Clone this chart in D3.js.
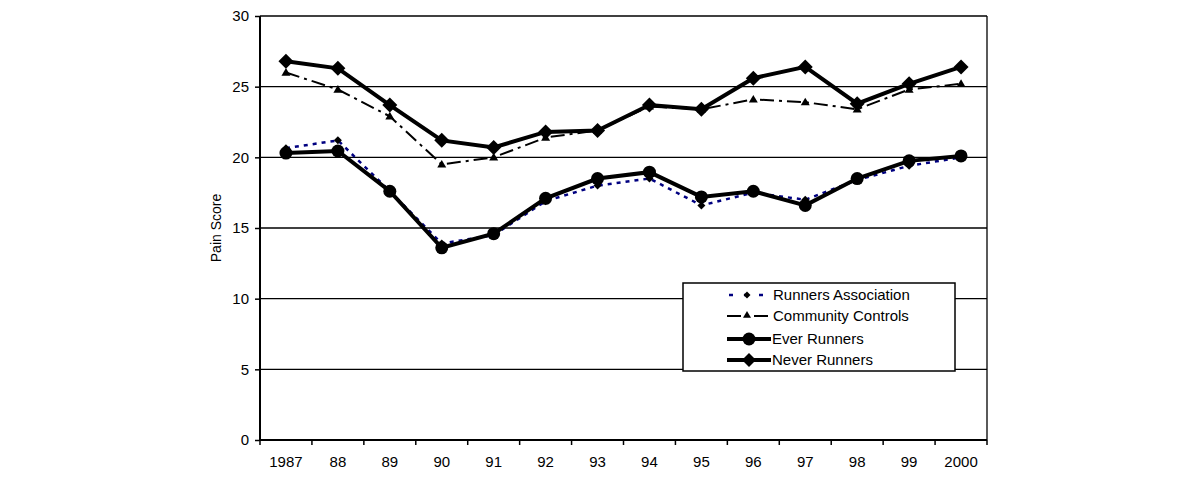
<!DOCTYPE html>
<html><head><meta charset="utf-8">
<script src="https://cdn.jsdelivr.net/npm/d3@7"></script>
<style>body{margin:0;background:#fff;font-family:"Liberation Sans",Arial,sans-serif;}</style>
</head><body><svg id="c" width="1200" height="478"></svg>
<script>
const years = ["1987","88","89","90","91","92","93","94","95","96","97","98","99","2000"];
const runnersAssociation = [20.65,21.2,17.6,13.9,14.5,16.9,18.0,18.5,16.6,17.5,17.0,18.4,19.4,20.0];
const communityControls = [26.0,24.8,22.9,19.5,20.0,21.4,21.9,23.6,23.4,24.1,23.9,23.4,24.8,25.2];
const everRunners = [20.3,20.45,17.6,13.6,14.6,17.1,18.5,18.95,17.2,17.6,16.6,18.5,19.75,20.1];
const neverRunners = [26.8,26.3,23.7,21.2,20.7,21.8,21.9,23.7,23.4,25.6,26.4,23.8,25.2,26.4];
const yTicks = [0,5,10,15,20,25,30];
const seriesNames = ["Runners Association","Community Controls","Ever Runners","Never Runners"];

const svg = d3.select("#c");
const L=260,R=987,T=16,B=440;
const x = d3.scaleBand().domain(years).range([L,R]);
const y = d3.scaleLinear().domain([0,30]).range([B,T]);
const font = '"Liberation Sans",Arial,sans-serif';

svg.append("g").selectAll("line").data(yTicks.filter(d=>d>0)).join("line")
  .attr("x1",L).attr("x2",R).attr("y1",d=>y(d)).attr("y2",d=>y(d))
  .attr("stroke","#000").attr("stroke-width",1.3);
svg.append("line").attr("x1",R).attr("x2",R).attr("y1",T).attr("y2",B).attr("stroke","#000").attr("stroke-width",1.3);

const ya = svg.append("g").attr("transform",`translate(${L},0)`)
  .call(d3.axisLeft(y).tickValues(yTicks).tickSize(5).tickPadding(6));
ya.select(".domain").attr("stroke-width",2).attr("d",`M0,${T}V${B}`);
ya.selectAll(".tick line").attr("stroke-width",1.5);
ya.selectAll("text").attr("font-family",font).attr("font-size",15).attr("fill","#000");

const xa = svg.append("g").attr("transform",`translate(0,${B})`)
  .call(d3.axisBottom(x).tickSize(0).tickPadding(16));
xa.select(".domain").attr("stroke-width",2).attr("d",`M${L},0H${R}`);
xa.selectAll("text").attr("font-family",font).attr("font-size",15).attr("fill","#000");
svg.append("g").selectAll("line").data(years.map(d=>x(d)).concat([R])).join("line")
  .attr("x1",d=>d).attr("x2",d=>d).attr("y1",B).attr("y2",B+5).attr("stroke","#000").attr("stroke-width",1.5);

svg.append("text").attr("transform",`translate(221,${(T+B)/2}) rotate(-90)`)
  .attr("text-anchor","middle").attr("font-family",font).attr("font-size",14).text("Pain Score");

const cx = d => x(d)+x.bandwidth()/2;
const line = vals => d3.line().x((d,i)=>cx(years[i])).y(d=>y(d))(vals);

function diamond(g,px,py,r,fill){
  g.append("path").attr("d",`M${px},${py-r}L${px+r},${py}L${px},${py+r}L${px-r},${py}Z`).attr("fill",fill);
}
function tri(g,px,py,r){
  g.append("path").attr("d",`M${px},${py-r}L${px+r},${py+r*0.7}L${px-r},${py+r*0.7}Z`).attr("fill","#000");
}

const g1 = svg.append("g");
g1.append("path").attr("d",line(runnersAssociation)).attr("fill","none").attr("stroke","#000080").attr("stroke-width",2.5).attr("stroke-dasharray","4,5");
runnersAssociation.forEach((v,i)=>diamond(g1,cx(years[i]),y(v),4,"#000"));

const g2 = svg.append("g");
g2.append("path").attr("d",line(communityControls)).attr("fill","none").attr("stroke","#000").attr("stroke-width",2).attr("stroke-dasharray","14,5,3,5");
communityControls.forEach((v,i)=>tri(g2,cx(years[i]),y(v),4.5));

const g3 = svg.append("g");
g3.append("path").attr("d",line(everRunners)).attr("fill","none").attr("stroke","#000").attr("stroke-width",4);
g3.selectAll("circle").data(everRunners).join("circle").attr("cx",(d,i)=>cx(years[i])).attr("cy",d=>y(d)).attr("r",6.5).attr("fill","#000");

const g4 = svg.append("g");
g4.append("path").attr("d",line(neverRunners)).attr("fill","none").attr("stroke","#000").attr("stroke-width",4);
neverRunners.forEach((v,i)=>diamond(g4,cx(years[i]),y(v),7.5,"#000"));

const lg = svg.append("g");
lg.append("rect").attr("x",683).attr("y",283).attr("width",272).attr("height",88).attr("fill","#fff").attr("stroke","#000").attr("stroke-width",1.5);
const rows=[295,316,339,360];
lg.append("line").attr("x1",729).attr("x2",770).attr("y1",rows[0]).attr("y2",rows[0]).attr("stroke","#000080").attr("stroke-width",2.5).attr("stroke-dasharray","4,11");
diamond(lg,747,rows[0],3.5,"#000");
lg.append("line").attr("x1",727).attr("x2",770).attr("y1",rows[1]).attr("y2",rows[1]).attr("stroke","#000").attr("stroke-width",2).attr("stroke-dasharray","14,5,3,5");
tri(lg,747,rows[1]-1,4);
lg.append("line").attr("x1",727).attr("x2",771).attr("y1",rows[2]).attr("y2",rows[2]).attr("stroke","#000").attr("stroke-width",4);
lg.append("circle").attr("cx",749).attr("cy",rows[2]).attr("r",6.5).attr("fill","#000");
lg.append("line").attr("x1",727).attr("x2",771).attr("y1",rows[3]).attr("y2",rows[3]).attr("stroke","#000").attr("stroke-width",4);
diamond(lg,749,rows[3],7,"#000");
seriesNames.forEach((n,i)=>lg.append("text").attr("x",i<2?773:772).attr("y",rows[i]+5).attr("font-family",font).attr("font-size",15).text(n));
</script></body></html>
